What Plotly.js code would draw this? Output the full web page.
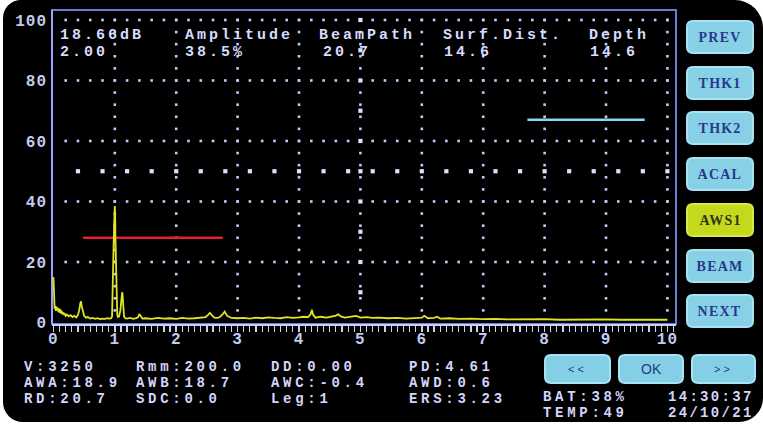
<!DOCTYPE html>
<html>
<head>
<meta charset="utf-8">
<script src="https://cdn.plot.ly/plotly-3.0.1.min.js"></script>
<style>
  html, body { margin: 0; padding: 0; background: #ffffff; }
  #screen { position: absolute; left: 3px; top: 0px; width: 760px; height: 422px; background: #000000;
            border-radius: 18px 28px 24px 20px; }
  #plot { position: absolute; left: 0; top: 0; width: 763px; height: 425px; }
  .xtick text, .ytick text { letter-spacing: 1px; }
</style>
</head>
<body>
<div id="screen"></div>
<div id="plot"></div>
<script>
// ---------------- data ----------------
// A-scan echo (distance, amplitude %)
const echoDist = [
  0, 0.01, 0.02, 0.03, 0.04, 0.05, 0.06, 0.07, 0.08, 0.09, 0.10, 0.11, 0.12, 0.13, 0.14, 0.15, 0.16, 0.17, 0.18, 0.19, 0.20,
  0.22, 0.25, 0.28, 0.31, 0.34, 0.37, 0.40, 0.42, 0.44, 0.45, 0.46, 0.48, 0.50, 0.53, 0.56, 0.60,
  0.64, 0.68, 0.72, 0.76, 0.80, 0.84, 0.88, 0.92,
  0.94, 0.955, 0.96, 0.965, 0.97, 0.98, 0.99, 1.00, 1.005, 1.01, 1.02, 1.03, 1.04, 1.05, 1.07, 1.09, 1.10, 1.11, 1.12, 1.125, 1.13, 1.14, 1.15, 1.17,
  1.20, 1.25, 1.30, 1.35, 1.38, 1.40, 1.42, 1.45, 1.50, 1.60, 1.70, 1.80, 1.90, 2.00, 2.10, 2.20, 2.30, 2.40, 2.48, 2.52, 2.55, 2.58, 2.62, 2.68, 2.72, 2.76, 2.79, 2.83, 2.90, 3.00,
  3.10, 3.20, 3.30, 3.40, 3.50, 3.60, 3.70, 3.80, 3.90, 4.00, 4.08, 4.15, 4.19, 4.21, 4.23, 4.27, 4.35, 4.45, 4.55, 4.60, 4.64, 4.68, 4.75, 4.85, 4.93, 5.00, 5.10, 5.20,
  5.30, 5.45, 5.60, 5.75, 5.90, 6.00, 6.04, 6.10, 6.20, 6.25, 6.30, 6.45, 6.60, 6.80, 7.00, 7.20, 7.40, 7.60, 7.80, 8.00, 8.25, 8.50, 8.75, 9.00, 9.25, 9.50, 9.75, 10.0
];
const echoAmp = [
  15, 7, 4.5, 5.5, 3.8, 5.2, 4.0, 4.8, 3.5, 4.6, 3.2, 4.4, 3.0, 3.9, 2.8, 3.5, 2.6, 3.2, 2.4, 2.9, 2.2,
  2.6, 2.0, 2.4, 1.8, 2.2, 1.7, 2.5, 4.0, 6.5, 7.0, 5.5, 3.2, 2.2, 1.6, 1.8, 1.3,
  1.5, 1.2, 1.4, 1.1, 1.3, 1.2, 1.4, 1.3,
  1.4, 2.0, 11, 3, 14, 25, 33, 38.5, 36, 28, 16, 6, 2.5, 1.8, 2.0, 4, 7, 9, 10, 9.5, 8, 4, 2.0, 1.4,
  1.3, 1.5, 1.2, 1.4, 1.8, 2.8, 2.0, 1.3, 1.4, 1.2, 1.5, 1.3, 1.4, 1.2, 1.5, 1.3, 1.4, 1.6, 1.8, 2.5, 3.2, 2.4, 1.6, 1.5, 2.0, 2.8, 3.6, 2.2, 1.5, 1.4,
  1.5, 1.3, 1.6, 1.4, 1.7, 1.5, 1.4, 1.8, 1.5, 1.7, 1.9, 1.8, 2.8, 4.2, 2.5, 1.6, 1.9, 1.6, 2.0, 2.3, 2.7, 2.0, 1.6, 1.8, 2.2, 1.6, 1.8, 1.5,
  1.6, 1.4, 1.5, 1.3, 1.5, 1.6, 2.2, 1.4, 1.5, 1.9, 1.3, 1.4, 1.2, 1.3, 1.1, 1.2, 1.0, 1.1, 1.0, 1.1, 0.9, 1.0, 0.9, 1.0, 0.9, 0.9, 0.8, 0.9
];

// gates
const gateNames = ['A', 'B'];
const gateStart = [0.48, 7.72];
const gateEnd   = [2.76, 9.63];
const gateLevel = [28, 67];

// axis ticks
const xTickVals = [0, 1, 2, 3, 4, 5, 6, 7, 8, 9, 10];
const yTickVals = [0, 20, 40, 60, 80, 100];

// header readings
const headerLabels = ['18.66dB', 'Amplitude', 'BeamPath', 'Surf.Dist.', 'Depth'];
const headerValues = ['2.00', '38.5%', '20.7', '14.6', '14.6'];

// parameter block (columns of rows)
const paramCol1 = ['V:3250', 'AWA:18.9', 'RD:20.7'];
const paramCol2 = ['Rmm:200.0', 'AWB:18.7', 'SDC:0.0'];
const paramCol3 = ['DD:0.00', 'AWC:-0.4', 'Leg:1'];
const paramCol4 = ['PD:4.61', 'AWD:0.6', 'ERS:3.23'];
const statusLeft  = ['BAT:38%', 'TEMP:49'];
const statusRight = ['14:30:37', '24/10/21'];

// buttons
const sideButtons = ['PREV', 'THK1', 'THK2', 'ACAL', 'AWS1', 'BEAM', 'NEXT'];
const activeButton = 'AWS1';
const navButtons = ['<<', 'OK', '>>'];

// ---------------- layout helpers (pixels -> paper) ----------------
const W = 763, H = 425;
const M = { l: 52, r: 87, t: 10, b: 101 };
const PW = W - M.l - M.r, PH = H - M.t - M.b;
const px = x => (x - M.l) / PW;
const py = y => (H - M.b - y) / PH;

function rrect(x0, y0, x1, y1, r) {
  const p = (x, y) => px(x).toFixed(5) + ',' + py(y).toFixed(5);
  return 'M' + p(x0 + r, y0) + ' L' + p(x1 - r, y0) + ' Q' + p(x1, y0) + ' ' + p(x1, y0 + r) +
         ' L' + p(x1, y1 - r) + ' Q' + p(x1, y1) + ' ' + p(x1 - r, y1) +
         ' L' + p(x0 + r, y1) + ' Q' + p(x0, y1) + ' ' + p(x0, y1 - r) +
         ' L' + p(x0, y0 + r) + ' Q' + p(x0, y0) + ' ' + p(x0 + r, y0) + ' Z';
}

const annotations = [];
const annLS = [];
function txt(text, x, y, font, ls, anchor) {
  annotations.push({
    text: text, xref: 'paper', yref: 'paper', x: px(x), y: py(y),
    xanchor: anchor || 'left', yanchor: 'middle', align: anchor === 'center' ? 'center' : 'left',
    showarrow: false, borderpad: 0, font: font
  });
  annLS.push(ls || 0);
}

const monoFont = (size, color) => ({ family: 'Liberation Mono, DejaVu Sans Mono, monospace', size: size, color: color, weight: 'bold' });

// header
const headerLabelX = [59, 184, 318, 442, 588];
const headerValueX = [59, 184, 322, 443, 589];
headerLabels.forEach((t, i) => txt(t, headerLabelX[i], 35.5, monoFont(15, '#d6dbff'), 3.0));
headerValues.forEach((t, i) => txt(t, headerValueX[i], 52.5, monoFont(15, '#d6dbff'), 3.0));

// parameters
const paramCols = [paramCol1, paramCol2, paramCol3, paramCol4];
const paramColX = [23, 135, 270, 408];
const paramRowY = [366.5, 382.5, 398.5];
paramCols.forEach((col, c) => col.forEach((t, r) => txt(t, paramColX[c], paramRowY[r], monoFont(14, '#d2d6fa'), 3.7)));
statusLeft.forEach((t, r) => txt(t, 542, [397.5, 413.5][r], monoFont(14, '#d2d6fa'), 3.7));
statusRight.forEach((t, r) => txt(t, 667, [397.5, 413.5][r], monoFont(14, '#d2d6fa'), 2.3));

// shapes
const shapes = [];
// plot frame
shapes.push({ type: 'rect', xref: 'paper', yref: 'paper', x0: 0, x1: 1, y0: 0, y1: 1,
              line: { color: '#6c7bd8', width: 2 }, layer: 'below' });
shapes.push({ type: 'line', xref: 'paper', yref: 'paper', x0: 0, x1: 0, y0: 0, y1: 1,
              line: { color: '#97a5ff', width: 2 }, layer: 'below' });

// side buttons
const sideTop = [21, 67, 112, 158, 204, 250, 295];
sideButtons.forEach((b, i) => {
  const active = b === activeButton;
  shapes.push({ type: 'path', xref: 'paper', yref: 'paper', path: rrect(687, sideTop[i], 753, sideTop[i] + 32, 6),
    fillcolor: active ? '#c4d81c' : '#87d0e6', line: { color: active ? '#d8e84a' : '#a6e3f4', width: 2 }, layer: 'above' });
  txt(b, 720, sideTop[i] + 16.5, { family: 'Liberation Serif, serif', size: 14, weight: 'bold', color: active ? '#2c3418' : '#27398c' }, 1.2, 'center');
});
// nav buttons
const navX = [[545, 610], [619, 683], [692, 755]];
navButtons.forEach((b, i) => {
  shapes.push({ type: 'path', xref: 'paper', yref: 'paper', path: rrect(navX[i][0], 355, navX[i][1], 383, 6),
    fillcolor: '#84cfe5', line: { color: '#a6e3f4', width: 2 }, layer: 'above' });
  txt(b, (navX[i][0] + navX[i][1]) / 2, 368.5, { family: 'Liberation Sans, sans-serif', size: b === 'OK' ? 14 : 11, color: '#27398c' }, b === 'OK' ? 0 : 3, 'center');
});

// ---------------- grid dots (screen graticule) ----------------
const smallX = [], smallY = [], bigX = [], bigY = [];
for (const yv of [20, 40, 60, 80, 100]) for (let k = 1; k <= 50; k++) { smallX.push(+(k * 0.2).toFixed(2)); smallY.push(yv); }
for (let xv = 1; xv <= 10; xv++) for (let k = 1; k <= 25; k++) { smallX.push(xv); smallY.push(k * 4); }
for (let k = 1; k <= 25; k++) { bigX.push(+(k * 0.4).toFixed(2)); bigY.push(50); }
for (let k = 1; k <= 10; k++) { bigX.push(5); bigY.push(k * 10); }

const traces = [
  { x: smallX, y: smallY, mode: 'markers', type: 'scatter', hoverinfo: 'skip',
    marker: { size: 2.6, color: '#c3c8ff', symbol: 'square' } },
  { x: bigX, y: bigY, mode: 'markers', type: 'scatter', hoverinfo: 'skip',
    marker: { size: 4.2, color: '#dde0ff', symbol: 'square' } }
];
const gateColors = ['#e3202c', '#86dcef'];
gateNames.forEach((g, i) => traces.push({
  x: [gateStart[i], gateEnd[i]], y: [gateLevel[i], gateLevel[i]], mode: 'lines', type: 'scatter', name: 'Gate ' + g,
  line: { color: gateColors[i], width: 2.6 }
}));
traces.push({ x: echoDist, y: echoAmp, mode: 'lines', type: 'scatter', name: 'A-scan',
  line: { color: '#dfe425', width: 1.8 } });

const tickFont = { family: 'Liberation Mono, DejaVu Sans Mono, monospace', size: 16, color: '#c3cbef', weight: 'bold' };
const layout = {
  width: W, height: H, margin: M,
  paper_bgcolor: 'rgba(0,0,0,0)', plot_bgcolor: 'rgba(0,0,0,0)', showlegend: false,
  xaxis: { range: [-0.023, 10.14], tickvals: xTickVals, ticks: 'outside', ticklen: 6, tickwidth: 1.5, tickcolor: '#c9d2f5',
    showline: true, linecolor: '#c9d2f5', linewidth: 2, showgrid: false, zeroline: false, tickfont: tickFont,
    ticklabelstandoff: -7,
    minor: { dtick: 0.1, tick0: 0, ticks: 'outside', ticklen: 6, tickwidth: 1.2, tickcolor: '#c9d2f5', showgrid: false },
    fixedrange: true },
  yaxis: { range: [-0.5, 103.3], tickvals: yTickVals, ticks: '', showline: false, showgrid: false, zeroline: false,
    tickfont: tickFont, ticklabelstandoff: 4, fixedrange: true },
  shapes: shapes, annotations: annotations
};

Plotly.newPlot('plot', traces, layout, { displayModeBar: false, staticPlot: true }).then(gd => {
  gd.querySelectorAll('g.annotation').forEach(g => {
    const i = +g.getAttribute('data-index');
    const t = g.querySelector('text');
    if (t && annLS[i]) t.style.letterSpacing = annLS[i] + 'px';
  });
});
</script>
</body>
</html>
